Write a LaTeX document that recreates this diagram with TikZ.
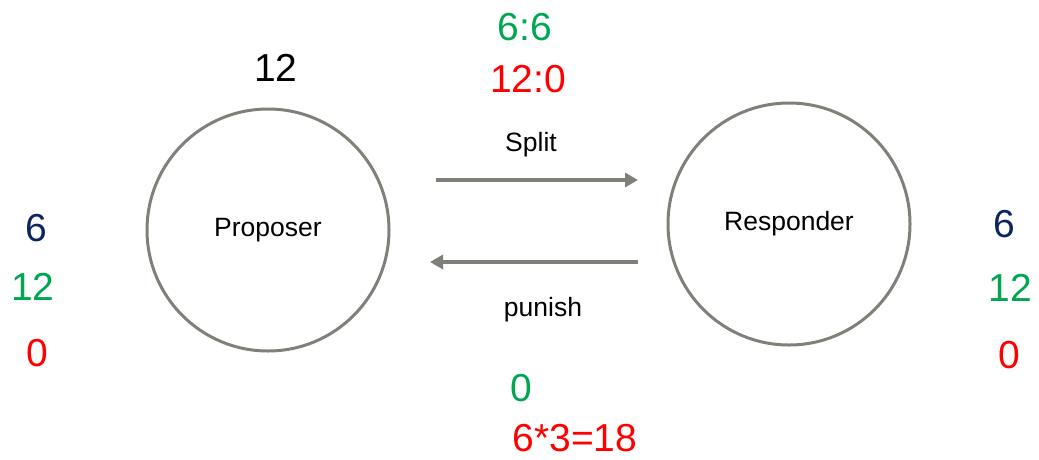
\documentclass[tikz,border=0pt]{standalone}
\usepackage{fontspec}
\setmainfont{Liberation Sans}
\usetikzlibrary{arrows.meta}
\definecolor{pgreen}{RGB}{0,166,80}
\definecolor{pred}{RGB}{255,0,0}
\definecolor{pnavy}{RGB}{12,36,96}
\definecolor{pgray}{RGB}{128,128,122}
\tikzset{
  agent/.style={circle, draw=pgray, line width=3pt, minimum size=242pt, inner sep=0pt, font=\fontsize{26.5}{30}\selectfont},
  big/.style={font=\fontsize{39}{42}\selectfont, inner sep=0pt},
  lbl/.style={font=\fontsize{26.5}{30}\selectfont, inner sep=0pt},
  flow/.style={draw=pgray, line width=4pt, -{Triangle[length=13pt,width=14pt]}, shorten >=0pt}
}
\begin{document}
\begin{tikzpicture}[x=1pt,y=-1pt]
\useasboundingbox (0,0) rectangle (1039,459);
\node[agent] (prop) at (268,230) {Proposer};
\node[agent] (resp) at (789,224) {Responder};
\coordinate (s1) at (436,180);
\coordinate (s2) at (638,180);
\coordinate (p1) at (638,262);
\coordinate (p2) at (430,262);
\draw[flow] (s1) -- (s2);
\draw[flow] (p1) -- (p2);
\node[lbl] (split) at (531,145) {Split};
\node[lbl] (punish) at (543,310) {punish};
\node[big] (pt) at (276,68) {12};
\node[big, text=pgreen] (r1) at (525,27) {6:6};
\node[big, text=pred] (r2) at (528,79) {12:0};
\node[big, text=pgreen] (b1) at (521,388) {0};
\node[big, text=pred] (b2) at (575,438) {6*3=18};
\node[big, text=pnavy] (l1) at (36,228) {6};
\node[big, text=pgreen] (l2) at (33,287) {12};
\node[big, text=pred] (l3) at (37,353) {0};
\node[big, text=pnavy] (q1) at (1004,224) {6};
\node[big, text=pgreen] (q2) at (1010,288) {12};
\node[big, text=pred] (q3) at (1009,355) {0};
\end{tikzpicture}
\end{document}
